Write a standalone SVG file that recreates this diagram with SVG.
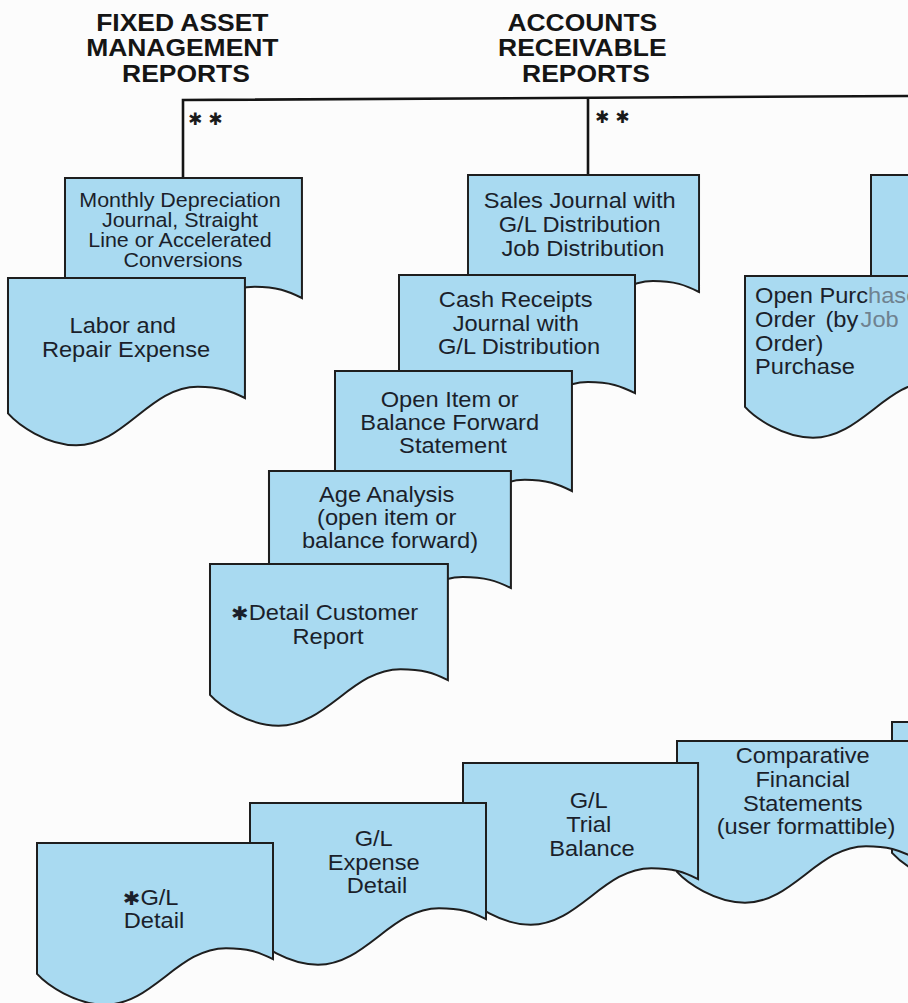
<svg xmlns="http://www.w3.org/2000/svg" width="908" height="1003" viewBox="0 0 908 1003">
  <defs>
    <!-- printout symbol: flat top, wavy torn bottom (236 x 117 base) -->
    <path id="doc" d="M0,0 H236 V117 C222,110 211,106 189,106 C141,106 116,163 68,163 C38,163 10,143 0,132 Z"/>
    <style>
      .doc{fill:#a9daf1;stroke:#1e1e1e;stroke-width:2;stroke-linejoin:miter}
      .t{font-family:"Liberation Sans",Arial,Helvetica,sans-serif;font-size:21.5px;fill:#1b1f2b;text-anchor:middle}
      .s{font-size:19.5px}
      .l{text-anchor:start}
      .h{font-family:"Liberation Sans",Arial,Helvetica,sans-serif;font-weight:bold;font-size:23px;fill:#151515;text-anchor:middle}
      .ast{font-family:"DejaVu Sans",sans-serif;font-size:19px;font-weight:bold}
      .mark{font-family:"DejaVu Sans",sans-serif;font-size:17px;font-weight:bold;fill:#1a1a1a}
      .fade{fill:#6f8290}
    </style>
  </defs>

  <rect width="908" height="1003" fill="#fcfcfc"/>

  <!-- section headings -->
  <g id="hdr-fixed-asset">
    <text class="h" transform="translate(186,0) scale(1.15,1)">
      <tspan x="0" y="31">FIXED ASSET</tspan>
      <tspan x="0" y="56.5">MANAGEMENT</tspan>
      <tspan x="0" y="82">REPORTS</tspan>
    </text>
  </g>
  <g id="hdr-receivable">
    <text class="h" transform="translate(586,0) scale(1.15,1)">
      <tspan x="0" y="31">ACCOUNTS</tspan>
      <tspan x="0" y="56.5">RECEIVABLE</tspan>
      <tspan x="0" y="82">REPORTS</tspan>
    </text>
  </g>

  <!-- tree connectors -->
  <g id="connectors" fill="none" stroke="#141414" stroke-width="2.6">
    <path d="M183,178 V100 L908,96"/>
    <path d="M588,97.8 V175"/>
    <text class="mark" x="188" y="125" stroke="none">✱ ✱</text>
    <text class="mark" x="595" y="123" stroke="none">✱ ✱</text>
  </g>

  <!-- fixed asset reports -->
  <g id="monthly-depreciation">
    <use href="#doc" class="doc" transform="translate(65,178) scale(1.004,1.026)"/>
    <text class="t s" transform="translate(183,0) scale(1.1,1)">
      <tspan x="0" y="207">Monthly Depreciation</tspan>
      <tspan x="0" y="227">Journal, Straight</tspan>
      <tspan x="0" y="247">Line or Accelerated</tspan>
      <tspan x="0" y="267">Conversions</tspan>
    </text>
  </g>
  <g id="labor-repair">
    <use href="#doc" class="doc" transform="translate(8,278) scale(1.004,1.026)"/>
    <text class="t" transform="translate(126,0) scale(1.1,1)">
      <tspan x="0" y="333">Labor and</tspan>
      <tspan x="0" y="357">Repair Expense</tspan>
    </text>
  </g>

  <!-- accounts receivable reports -->
  <g id="sales-journal">
    <use href="#doc" class="doc" transform="translate(468,175) scale(0.979,1)"/>
    <text class="t" transform="translate(583,0) scale(1.1,1)">
      <tspan x="0" y="208">Sales Journal with</tspan>
      <tspan x="0" y="232">G/L Distribution</tspan>
      <tspan x="0" y="256">Job Distribution</tspan>
    </text>
  </g>
  <g id="cash-receipts">
    <use href="#doc" class="doc" transform="translate(399,275) scale(1,1.01)"/>
    <text class="t" transform="translate(519,0) scale(1.1,1)">
      <tspan x="0" y="307">Cash Receipts</tspan>
      <tspan x="0" y="331">Journal with</tspan>
      <tspan x="0" y="354">G/L Distribution</tspan>
    </text>
  </g>
  <g id="open-item">
    <use href="#doc" class="doc" transform="translate(335,371) scale(1.004,1.026)"/>
    <text class="t" transform="translate(453,0) scale(1.1,1)">
      <tspan x="0" y="407">Open Item or</tspan>
      <tspan x="0" y="430">Balance Forward</tspan>
      <tspan x="0" y="453">Statement</tspan>
    </text>
  </g>
  <g id="age-analysis">
    <use href="#doc" class="doc" transform="translate(269,471) scale(1.025,1)"/>
    <text class="t" transform="translate(390,0) scale(1.1,1)">
      <tspan x="0" y="502">Age Analysis</tspan>
      <tspan x="0" y="525">(open item or</tspan>
      <tspan x="0" y="548">balance forward)</tspan>
    </text>
  </g>
  <g id="detail-customer">
    <use href="#doc" class="doc" transform="translate(210,564) scale(1.008,0.992)"/>
    <text class="t" transform="translate(328,0) scale(1.1,1)">
      <tspan x="0" y="620"><tspan class="ast">✱</tspan>Detail Customer</tspan>
      <tspan x="0" y="644">Report</tspan>
    </text>
  </g>

  <!-- purchasing reports (right) -->
  <g id="purchase-back">
    <use href="#doc" class="doc" transform="translate(871,175)"/>
  </g>
  <g id="open-purchase-order">
    <use href="#doc" class="doc" transform="translate(745,276) scale(1,0.992)"/>
    <text class="t l" transform="translate(755,0) scale(1.1,1)">
      <tspan x="0" y="303">Open Purc<tspan class="fade">hase</tspan></tspan>
      <tspan x="0" y="327">Order</tspan><tspan x="64">(by</tspan><tspan x="96" class="fade">Job</tspan>
      <tspan x="0" y="351">Order)</tspan>
      <tspan x="0" y="374">Purchase</tspan>
    </text>
  </g>

  <!-- general ledger reports -->
  <g id="gl-next">
    <use href="#doc" class="doc" transform="translate(892,722) scale(1,0.992)"/>
  </g>
  <g id="comparative-statements">
    <use href="#doc" class="doc" transform="translate(677,741) scale(1,0.992)"/>
    <text class="t" transform="translate(806,0) scale(1.1,1)">
      <tspan x="0" y="763">Comparative</tspan>
      <tspan x="0" y="787">Financial</tspan>
      <tspan x="0" y="811">Statements</tspan>
      <tspan x="0" y="834">(user formattible)</tspan>
    </text>
  </g>
  <g id="gl-trial-balance">
    <use href="#doc" class="doc" transform="translate(463,763) scale(0.996,0.992)"/>
    <text class="t" transform="translate(592,0) scale(1.1,1)">
      <tspan x="0" y="808">G/L</tspan>
      <tspan x="0" y="832">Trial</tspan>
      <tspan x="0" y="856">Balance</tspan>
    </text>
  </g>
  <g id="gl-expense-detail">
    <use href="#doc" class="doc" transform="translate(250,803) scale(1,0.992)"/>
    <text class="t" transform="translate(377,0) scale(1.1,1)">
      <tspan x="0" y="846">G/L</tspan>
      <tspan x="0" y="870">Expense</tspan>
      <tspan x="0" y="893">Detail</tspan>
    </text>
  </g>
  <g id="gl-detail">
    <use href="#doc" class="doc" transform="translate(37,843) scale(1,0.992)"/>
    <text class="t" transform="translate(154,0) scale(1.1,1)">
      <tspan x="0" y="905"><tspan class="ast">✱</tspan>G/L</tspan>
      <tspan x="0" y="928">Detail</tspan>
    </text>
  </g>
</svg>
